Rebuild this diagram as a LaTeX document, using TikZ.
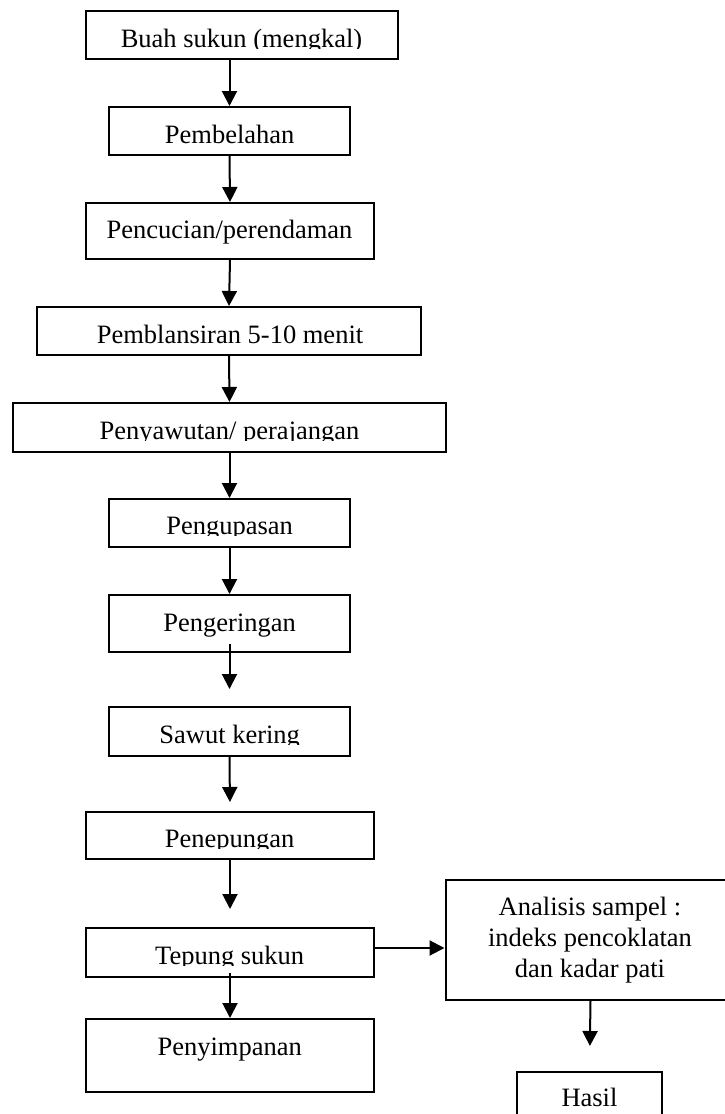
\documentclass[tikz,border=0pt]{standalone}
\usepackage{fontspec}
\setmainfont{Liberation Serif}
\usetikzlibrary{arrows.meta}
\begin{document}
\begin{tikzpicture}[x=1pt,y=-1pt,
  box/.style={draw=black, line width=2pt, inner sep=0pt},
  lbl/.style={anchor=base, inner sep=0pt, font=\fontsize{26.5}{31}\selectfont},
  arr/.style={line width=2pt, -{Triangle[width=15pt,length=15pt]}}]
\clip (0,0) rectangle (725,1114);
\fill[white] (0,0) rectangle (725,1114);
% boxes
\node[box, minimum width=312pt, minimum height=48pt] (b1) at (242,35) {};
\node[box, minimum width=241pt, minimum height=48pt] (b2) at (229.5,131) {};
\node[box, minimum width=288pt, minimum height=56pt] (b3) at (230,231) {};
\node[box, minimum width=384pt, minimum height=48pt] (b4) at (229,331) {};
\node[box, minimum width=433pt, minimum height=49pt] (b5) at (229.5,427.5) {};
\node[box, minimum width=241pt, minimum height=48pt] (b6) at (229.5,523) {};
\node[box, minimum width=241pt, minimum height=57pt] (b7) at (229.5,623.5) {};
\node[box, minimum width=241pt, minimum height=49pt] (b8) at (229.5,731.5) {};
\node[box, minimum width=288pt, minimum height=47pt] (b9) at (230,835.5) {};
\node[box, minimum width=288pt, minimum height=49pt] (b10) at (230,952.5) {};
\node[box, minimum width=288pt, minimum height=73pt] (b11) at (230,1055.5) {};
\node[box, minimum width=290pt, minimum height=120pt] (an) at (590.5,940) {};
\node[box, minimum width=145pt, minimum height=56pt] (ha) at (589.5,1100) {};
% texts (descenders cut where the reference cuts them)
\begin{scope}\clip (0,0) rectangle (725,48);
\node[lbl] (t1) at (241.5,47) {Buah sukun (mengkal)};\end{scope}
\node[lbl] (t2) at (229.7,143) {Pembelahan};
\node[lbl] (t3) at (229.5,238) {Pencucian/perendaman};
\node[lbl] (t4) at (230,343) {Pemblansiran 5-10 menit};
\begin{scope}\clip (0,0) rectangle (725,440);
\node[lbl] (t5) at (229.5,439) {Penyawutan/ perajangan};\end{scope}
\begin{scope}\clip (0,0) rectangle (725,535);
\node[lbl] (t6) at (229.7,534) {Pengupasan};\end{scope}
\node[lbl] (t7) at (229.7,631) {Pengeringan};
\begin{scope}\clip (0,0) rectangle (725,744);
\node[lbl] (t8) at (229.7,743) {Sawut kering};\end{scope}
\begin{scope}\clip (0,0) rectangle (725,848);
\node[lbl] (t9) at (229.7,847) {Penepungan};\end{scope}
\begin{scope}\clip (0,0) rectangle (725,965);
\node[lbl] (t10) at (229.7,964) {Tepung sukun};\end{scope}
\node[lbl] (t11) at (229.7,1055) {Penyimpanan};
\node[lbl] (ta1) at (590,915) {Analisis sampel :};
\node[lbl] (ta2) at (590,946) {indeks pencoklatan};
\node[lbl] (ta3) at (590,977) {dan kadar pati};
\node[lbl] (th) at (589.5,1106) {Hasil};
% arrows
\draw[arr] (b1.south -| b2) -- (b2.north);
\draw[arr] (b2.south) -- (b3.north);
\draw[arr] (b3.south) -- (b4.north);
\draw[arr] (b4.south) -- (b5.north);
\draw[arr] (b5.south) -- (b6.north);
\draw[arr] (b6.south) -- (b7.north);
\draw[arr, shorten <=-9pt, shorten >=17pt] (b7.south) -- (b8.north);
\draw[arr, shorten >=9pt] (b8.south) -- (b9.north);
\draw[arr, shorten >=18pt] (b9.south) -- (b10.north);
\draw[arr, shorten <=-5pt] (b10.south) -- (b11.north);
\draw[arr] ([yshift=4.5pt]b10.east) -- ([yshift=4.5pt]b10.east -| an.west);
\draw[arr, shorten >=25pt] (an.south) -- (ha.north);
\end{tikzpicture}
\end{document}
